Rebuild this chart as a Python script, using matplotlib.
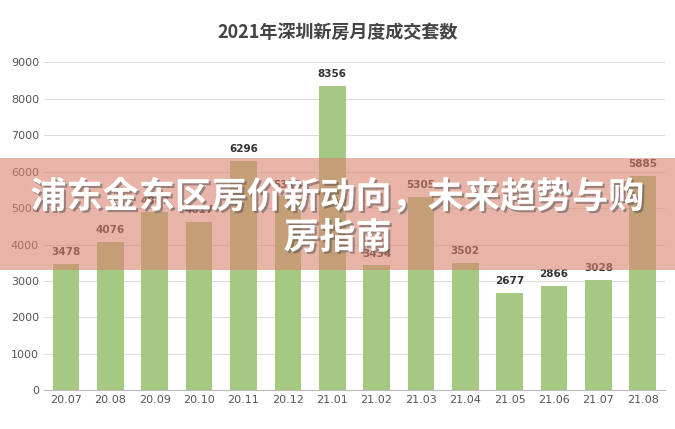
import matplotlib.pyplot as plt
from matplotlib import font_manager
from matplotlib.patches import Rectangle
import matplotlib.patheffects as pe

# 找一个能显示中文的字体
cjk = sorted(set(f.name for f in font_manager.fontManager.ttflist if 'CJK' in f.name))
plt.rcParams['font.family'] = 'sans-serif'
plt.rcParams['font.sans-serif'] = ['DejaVu Sans'] + cjk

months = ['20.07', '20.08', '20.09', '20.10', '20.11', '20.12', '21.01',
          '21.02', '21.03', '21.04', '21.05', '21.06', '21.07', '21.08']
sales = [3478, 4076, 4887, 4617, 6296, 5318, 8356,
         3434, 5305, 3502, 2677, 2866, 3028, 5885]

fig = plt.figure(figsize=(6.75, 4.29), dpi=100)
ax = fig.add_axes([0.065, 0.09, 0.92, 0.765])
x = range(len(months))
ax.bar(x, sales, width=0.6, color='#a5c882', zorder=2)
for i, v in zip(x, sales):
    ax.text(i, v + 180, str(v), ha='center', va='bottom', fontsize=7.5,
            fontweight='bold', color='#333333')
ax.set_ylim(0, 9000)
ax.set_xlim(-0.5, len(months) - 0.5)
ax.set_yticks(range(0, 9001, 1000))
ax.set_xticks(list(x))
ax.set_xticklabels(months)
ax.tick_params(axis='both', length=0, labelsize=8, colors='#555555')
ax.grid(axis='y', color='#dddddd', linewidth=0.8, zorder=0)
for s in ['top', 'right', 'left']:
    ax.spines[s].set_visible(False)
ax.spines['bottom'].set_color('#bbbbbb')

cjk_font = {'family': cjk[:1] + ['DejaVu Sans']}
fig.text(0.5, 0.925, '2021年深圳新房月度成交套数', ha='center', va='center',
         fontsize=13, fontweight='bold', color='#444444', fontdict=cjk_font)

# 横幅覆盖层
fig.patches.append(Rectangle((0, 0.37), 1, 0.262, transform=fig.transFigure,
                             color='#d9826e', alpha=0.6, zorder=5, linewidth=0))
shadow = [pe.withSimplePatchShadow(offset=(1.5, -1.5), alpha=0.5)]
fig.text(0.5, 0.54, '浦东金东区房价新动向，未来趋势与购', ha='center', va='center',
         fontsize=26, fontweight='bold', color='white', zorder=6,
         path_effects=shadow, fontdict=cjk_font)
fig.text(0.5, 0.445, '房指南', ha='center', va='center',
         fontsize=26, fontweight='bold', color='white', zorder=6,
         path_effects=shadow, fontdict=cjk_font)

fig.savefig('out.png', dpi=100)
